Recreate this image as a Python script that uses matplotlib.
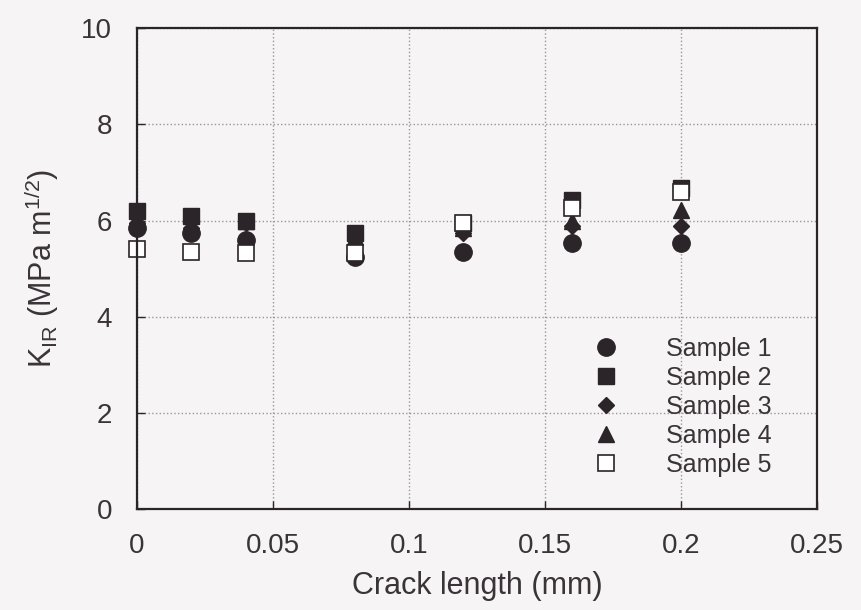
import matplotlib.pyplot as plt
import numpy as np

plt.rcParams['font.family'] = ['Liberation Sans', 'DejaVu Sans']
plt.rcParams['mathtext.fontset'] = 'custom'
plt.rcParams['mathtext.rm'] = 'Liberation Sans'
plt.rcParams['mathtext.it'] = 'Liberation Sans'

# crack length (mm)
crack = [0.0, 0.02, 0.04, 0.08, 0.12, 0.16, 0.2]
# K_IR (MPa m^1/2) per sample
sample1 = [5.85, 5.75, 5.6, 5.24, 5.34, 5.53, 5.53]
sample2 = [6.2, 6.1, 6.0, 5.74, 5.95, 6.42, 6.68]
sample3 = [5.95, 5.85, 5.95, 5.6, 5.75, 5.88, 5.88]
sample4 = [6.05, 5.9, 6.0, 5.65, 5.85, 6.0, 6.22]
sample5 = [5.4, 5.35, 5.33, 5.32, 5.95, 6.26, 6.6]

ink = '#2b2428'
txt = '#3a3337'
bg = '#f6f4f4'

fig = plt.figure(figsize=(8.61, 6.10), dpi=100, facecolor=bg)
ax = fig.add_axes([0.159, 0.1656, 0.79, 0.788])
ax.set_facecolor(bg)

ax.plot(crack, sample1, 'o', ms=12.5, color=ink, ls='none', label='Sample 1', clip_on=False)
ax.plot(crack, sample2, 's', ms=11.5, color=ink, ls='none', label='Sample 2', clip_on=False)
ax.plot(crack, sample3, 'D', ms=8, color=ink, ls='none', label='Sample 3', clip_on=False)
ax.plot(crack, sample4, '^', ms=12, color=ink, ls='none', label='Sample 4', clip_on=False)
ax.plot(crack, sample5, 's', ms=11.5, mfc='white', mec=ink, mew=1.2, ls='none',
        label='Sample 5', clip_on=False)

ax.set_xlim(0, 0.25)
ax.set_ylim(0, 10)
ax.set_xticks([0, 0.05, 0.1, 0.15, 0.2, 0.25])
ax.set_xticklabels(['0', '0.05', '0.1', '0.15', '0.2', '0.25'])
ax.set_yticks([0, 2, 4, 6, 8, 10])
ax.grid(True, ls=':', lw=1.0, color='#9a9698')
ax.tick_params(direction='in', length=6, width=1, colors=ink, labelsize=20,
               labelcolor=txt)
ax.tick_params(axis='x', pad=17)
ax.tick_params(axis='y', pad=18)
for s in ax.spines.values():
    s.set_color(ink)
    s.set_linewidth(1.6)

ax.set_xlabel('Crack length (mm)', fontsize=22, color=txt, labelpad=9)
ax.set_ylabel(r'K$_{\rm IR}$ (MPa m$^{1/2}$)', fontsize=22, color=txt, labelpad=14)

ax.legend(loc='lower right', bbox_to_anchor=(0.966, 0.02), frameon=False, fontsize=18,
          handlelength=1.0, handletextpad=1.9, labelspacing=0.2, labelcolor=txt)

fig.savefig('out.png', dpi=100, facecolor=bg)
